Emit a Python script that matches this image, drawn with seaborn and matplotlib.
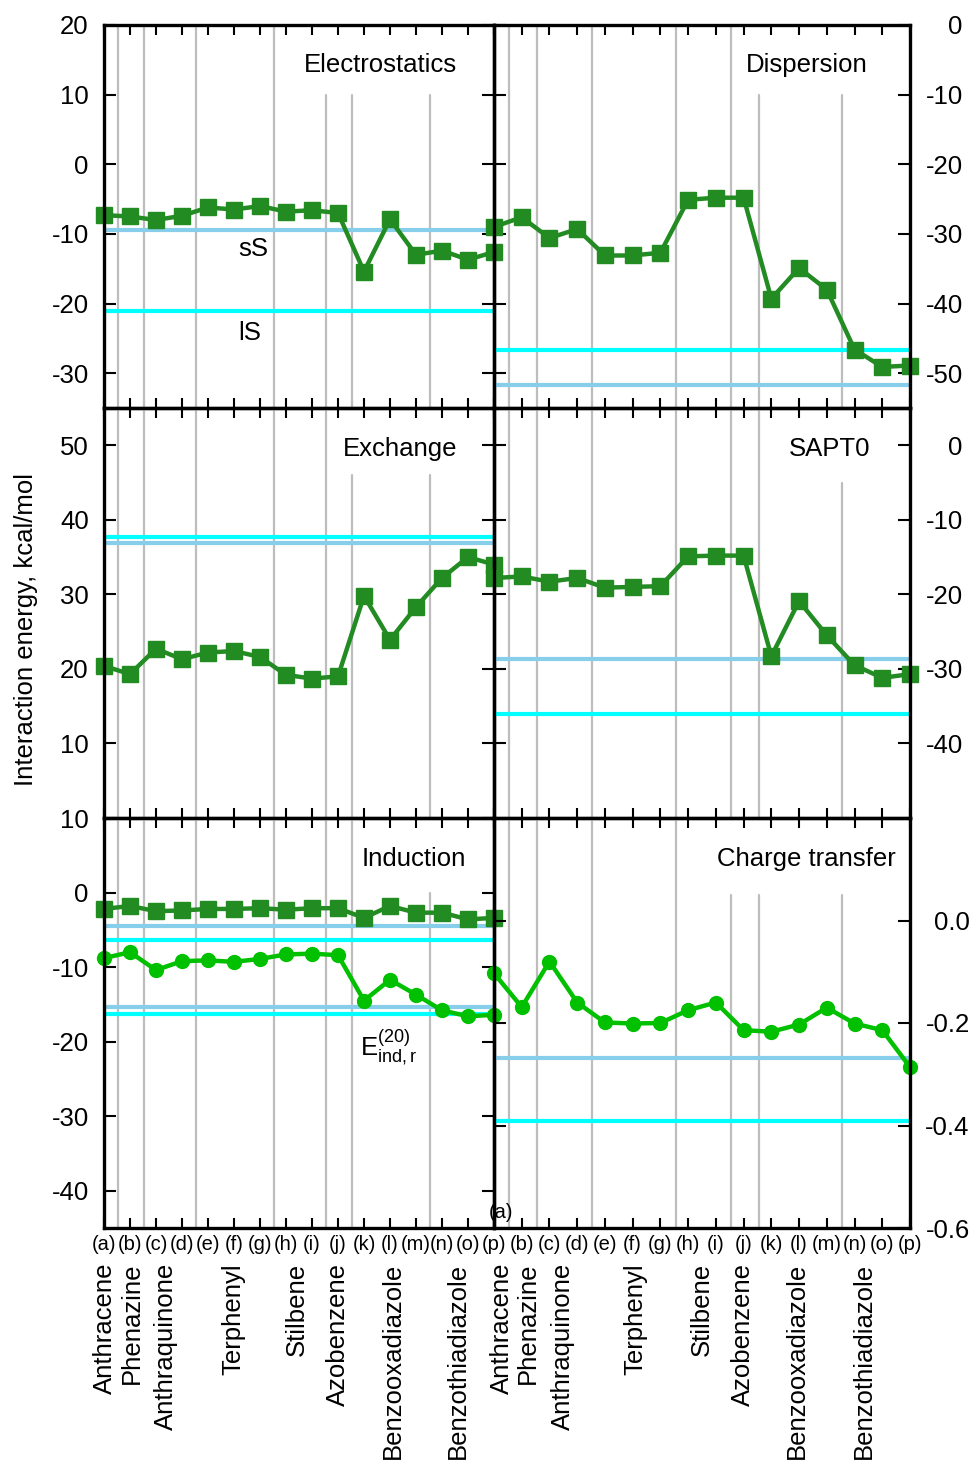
import matplotlib
matplotlib.use("Agg")
import matplotlib.pyplot as plt
import matplotlib.transforms as mtransforms
import seaborn as sns

# pair labels along x
letters = ["(a)", "(b)", "(c)", "(d)", "(e)", "(f)", "(g)", "(h)",
           "(i)", "(j)", "(k)", "(l)", "(m)", "(n)", "(o)", "(p)"]
idx = list(range(16))

# SAPT components, kcal/mol (charge transfer also kcal/mol, own scale)
electrostatics = [-7.3, -7.5, -8.0, -7.4, -6.2, -6.5, -6.0, -6.8,
                  -6.6, -7.0, -15.4, -7.9, -13.0, -12.4, -13.7, -12.6]
dispersion = [-29.0, -27.6, -30.6, -29.3, -33.1, -33.1, -32.7, -25.1,
              -24.8, -24.8, -39.3, -34.9, -38.0, -46.6, -49.1, -48.9]
exchange = [20.4, 19.3, 22.7, 21.3, 22.2, 22.4, 21.6, 19.2,
            18.7, 19.0, 29.8, 23.9, 28.3, 32.2, 35.0, 34.0]
sapt0 = [-17.8, -17.6, -18.3, -17.8, -19.1, -19.0, -18.9, -14.9,
         -14.8, -14.8, -28.3, -20.9, -25.5, -29.5, -31.2, -30.7]
induction = [-2.2, -1.8, -2.5, -2.4, -2.2, -2.2, -2.1, -2.3,
             -2.1, -2.1, -3.4, -1.8, -2.7, -2.7, -3.6, -3.4]
ind_r20 = [-8.8, -8.0, -10.4, -9.2, -9.1, -9.3, -8.9, -8.3,
           -8.2, -8.4, -14.5, -11.7, -13.7, -15.8, -16.6, -16.4]
charge_transfer = [-0.103, -0.169, -0.080, -0.160, -0.199, -0.201, -0.200, -0.175,
                   -0.160, -0.214, -0.217, -0.203, -0.170, -0.201, -0.214, -0.286]

# reference values (small / large system), one per panel
ref_sS = [-9.5, -51.7, 36.9, -28.7, -4.5, -0.268]
ref_lS = [-21.0, -46.6, 37.7, -36.1, -6.3, -0.391]
ind_r20_sS = -15.3
ind_r20_lS = -16.3

# group separators and compound names
separators = [0.55, 1.55, 3.55, 6.55, 8.55, 9.55, 12.55]
compounds = ["Anthracene", "Phenazine", "Anthraquinone", "Terphenyl",
             "Stilbene", "Azobenzene", "Benzooxadiazole", "Benzothiadiazole"]
name_pos_left = [0.04, 1.08, 2.4, 4.96, 7.4, 9.0, 11.1, 13.6]
name_pos_right = [0.29, 1.23, 2.5, 5.08, 7.5, 8.98, 10.93, 13.34]

sns.set_style("white")
plt.rcParams["font.family"] = ["Liberation Sans", "DejaVu Sans"]
plt.rcParams["mathtext.fontset"] = "custom"
plt.rcParams["mathtext.rm"] = "Liberation Sans"
plt.rcParams["axes.unicode_minus"] = False
plt.rcParams["text.color"] = "black"
plt.rcParams["xtick.color"] = "black"
plt.rcParams["ytick.color"] = "black"
plt.rcParams["axes.labelcolor"] = "black"

W, H = 974, 1465
fig = plt.figure(figsize=(W / 100, H / 100), dpi=100)

DARK = "#228b22"
BRIGHT = "#00c000"
SKY = "#87ceeb"
CYAN = "#00ffff"
GRAY = "#bdbdbd"
FS = 18.5


def make_ax(x0, y0, w, h):
    ax = fig.add_axes([x0 / W, (H - y0 - h) / H, w / W, h / H])
    ax.patch.set_visible(False)
    return ax


def setup(ax, ylim, yticks, side, partial, bottom=False, fmt="{:g}", rpad=38):
    ax.set_xlim(0, 15)
    ax.set_ylim(*ylim)
    lo, hi = ylim
    for s in separators:
        top = partial.get(s, hi)
        ax.axvline(s, ymin=0, ymax=(top - lo) / (hi - lo), color=GRAY, lw=1.6, zorder=0)
    for sp in ax.spines.values():
        sp.set_linewidth(2.4)
        sp.set_color("black")
        sp.set_zorder(10)
    ax.set_xticks(idx)
    ax.set_yticks(yticks)
    ax.set_yticklabels([fmt.format(v) for v in yticks])
    ax.tick_params(axis="x", direction="in", top=True, bottom=True, length=7, width=1.5,
                   labelbottom=bottom, labelsize=14.5, pad=5, colors="black")
    left = side == "left"
    ax.tick_params(axis="y", direction="in", left=True, right=True, length=8.5, width=1.5,
                   labelleft=left, labelright=not left, labelsize=FS,
                   pad=11 if left else rpad, colors="black")
    if not left:
        for t in ax.yaxis.get_major_ticks():
            t.label2.set_horizontalalignment("right")
    ax.set_xlabel("")
    ax.set_ylabel("")


def series(ax, vals, color, marker, ms):
    sns.lineplot(x=idx, y=vals, ax=ax, color=color, marker=marker, markersize=ms,
                 linewidth=3.2, markeredgecolor=color, markeredgewidth=1, zorder=5)
    for ln in ax.lines[-1:]:
        ln.set_clip_on(False)


def refs(ax, sS, lS):
    ax.axhline(sS, color=SKY, lw=3, zorder=2)
    ax.axhline(lS, color=CYAN, lw=3, zorder=2)


def title(ax, text, x, y=0.876):
    ax.text(x, y, text, transform=ax.transAxes, ha="right", va="baseline", fontsize=FS)


LX, LW = 104, 390
RX, RW = 494, 416

# top row
ax1 = make_ax(LX, 25, LW, 383)
refs(ax1, ref_sS[0], ref_lS[0])
series(ax1, electrostatics, DARK, "s", 11.5)
setup(ax1, (-35, 20), [-30, -20, -10, 0, 10, 20], "left", {8.55: 10, 9.55: 10, 12.55: 10})
title(ax1, "Electrostatics", 0.904)
ax1.text(5.73, -13.2, "sS", ha="center", va="baseline", fontsize=FS)
ax1.text(5.6, -25.2, "lS", ha="center", va="baseline", fontsize=FS)

ax2 = make_ax(RX, 25, RW, 383)
refs(ax2, ref_sS[1], ref_lS[1])
series(ax2, dispersion, DARK, "s", 11.5)
setup(ax2, (-55, 0), [-50, -40, -30, -20, -10, 0], "right", {9.55: -10, 12.55: -10})
title(ax2, "Dispersion", 0.899)

# middle row
ax3 = make_ax(LX, 408, LW, 410)
refs(ax3, ref_sS[2], ref_lS[2])
series(ax3, exchange, DARK, "s", 11.5)
setup(ax3, (0, 55), [10, 20, 30, 40, 50], "left", {9.55: 46, 12.55: 46})
title(ax3, "Exchange", 0.905, 0.883)

ax4 = make_ax(RX, 408, RW, 410)
refs(ax4, ref_sS[3], ref_lS[3])
series(ax4, sapt0, DARK, "s", 11.5)
setup(ax4, (-50, 5), [-40, -30, -20, -10, 0], "right", {12.55: -5})
title(ax4, "SAPT0", 0.904, 0.883)

# bottom row
ax5 = make_ax(LX, 818, LW, 410)
refs(ax5, ref_sS[4], ref_lS[4])
refs(ax5, ind_r20_sS, ind_r20_lS)
series(ax5, induction, DARK, "s", 11.5)
series(ax5, ind_r20, BRIGHT, "o", 10)
setup(ax5, (-45, 10), [-40, -30, -20, -10, 0, 10], "left", {12.55: 0}, bottom=True)
ax5.set_xticklabels(letters)
title(ax5, "Induction", 0.928, 0.883)
ax5.text(9.85, -21.8, r"$\mathregular{E^{(20)}_{ind,r}}$", ha="left", va="baseline", fontsize=FS)

ax6 = make_ax(RX, 818, RW, 410)
refs(ax6, ref_sS[5], ref_lS[5])
series(ax6, charge_transfer, BRIGHT, "o", 10)
setup(ax6, (-0.6, 0.2), [-0.6, -0.4, -0.2, 0.0], "right", {8.55: 0.05, 9.55: 0.05, 12.55: 0.05},
      bottom=True, fmt="{:.1f}", rpad=43)
ax6.set_xticklabels([""] + letters[1:])
ax6.text(0.25, -0.569, letters[0], ha="center", va="center", fontsize=14.5)
title(ax6, "Charge transfer", 0.966, 0.883)

fig.text(26 / W, 1 - 629 / H, "Interaction energy, kcal/mol", rotation=90,
         ha="center", va="center", fontsize=FS)

# compound names under the bottom axes
name_y = 1 - 1263 / H
for ax, pos in ((ax5, name_pos_left), (ax6, name_pos_right)):
    tr = mtransforms.blended_transform_factory(ax.transData, fig.transFigure)
    for name, p in zip(compounds, pos):
        fig.text(p, name_y, name, transform=tr, rotation=90, ha="center", va="top",
                 fontsize=FS)

fig.savefig("out.png", dpi=100)
